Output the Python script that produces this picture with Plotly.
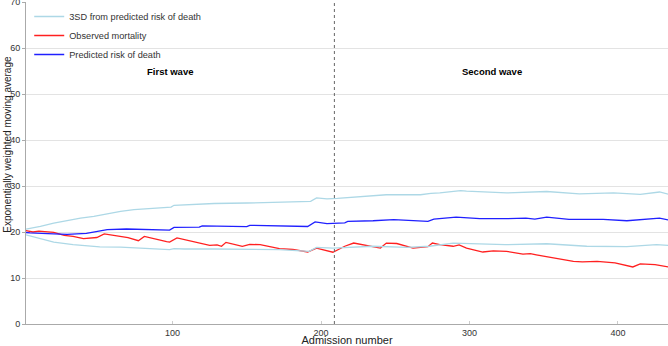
import plotly.graph_objects as go

# ---- data ----
upper_x = [1, 11, 20, 29, 38, 47, 56, 65, 74, 87, 96, 99, 101, 108, 118, 128, 150, 172, 193, 197,
           204, 211, 222, 235, 244, 258, 267, 274, 280, 294, 298, 325, 352, 374, 397, 415, 428, 434]
upper_y = [20.6, 21.2, 21.95, 22.5, 23.0, 23.4, 24.0, 24.5, 24.85, 25.2, 25.35, 25.4, 25.8, 25.9, 26.1,
           26.2, 26.3, 26.5, 26.65, 27.4, 27.2, 27.3, 27.6, 27.9, 28.1, 28.1, 28.1, 28.4, 28.5, 29.0,
           28.9, 28.5, 28.8, 28.3, 28.5, 28.2, 28.7, 28.2]

lower_x = [1, 11, 20, 33, 51, 65, 87, 98, 101, 108, 128, 150, 172, 192, 197, 208, 216, 235, 258,
           273, 289, 307, 324, 352, 379, 406, 426, 434]
lower_y = [19.4, 18.5, 17.8, 17.25, 16.75, 16.7, 16.4, 16.15, 16.4, 16.3, 16.3, 16.15, 16.15, 15.8,
           16.65, 16.5, 16.65, 16.9, 16.65, 16.9, 17.6, 17.5, 17.25, 17.45, 16.9, 16.8, 17.25, 17.1]

pred_x = [1, 4, 20, 29, 42, 47, 56, 69, 78, 96, 98, 101, 118, 120, 145, 150, 152, 172, 191, 196,
          204, 216, 218, 235, 249, 272, 276, 291, 307, 324, 338, 344, 352, 367, 390, 406, 419, 428, 434]
pred_y = [19.9, 19.8, 19.6, 19.5, 19.7, 20.0, 20.5, 20.65, 20.6, 20.5, 20.4, 21.0, 21.05, 21.35,
          21.2, 21.15, 21.45, 21.4, 21.2, 22.2, 21.8, 22.0, 22.3, 22.45, 22.7, 22.3, 22.8, 23.25,
          22.9, 22.9, 23.0, 22.8, 23.25, 22.75, 22.75, 22.45, 22.8, 23.0, 22.6]

obs_x = [1, 6, 10, 17, 20, 27, 33, 40, 44, 49, 54, 65, 70, 77, 81, 96, 98, 103, 108, 118, 125,
         130, 133, 136, 143, 147, 152, 159, 172, 181, 191, 197, 208, 212, 216, 222, 235, 240, 244,
         251, 262, 272, 275, 280, 289, 293, 298, 309, 316, 325, 336, 341, 345, 370, 376, 386, 398,
         410, 415, 425, 434]
obs_y = [20.3, 20.0, 20.2, 20.0, 19.9, 19.25, 19.05, 18.55, 18.7, 18.8, 19.6, 19.05, 18.8, 18.1,
         19.05, 17.9, 17.8, 18.7, 18.3, 17.6, 17.1, 17.2, 16.9, 17.75, 17.3, 16.9, 17.3, 17.25,
         16.4, 16.2, 15.65, 16.5, 15.6, 16.3, 16.9, 17.6, 16.9, 16.5, 17.6, 17.5, 16.5, 16.8,
         17.6, 17.25, 16.9, 17.2, 16.5, 15.65, 15.9, 15.8, 15.2, 15.3, 15.05, 13.6, 13.5, 13.6,
         13.3, 12.4, 13.05, 12.9, 12.4]

wave_split = 209
wave_labels = ["First wave", "Second wave"]
wave_label_x = [98, 315]
wave_label_y = 55
x_ticks = [100, 200, 300, 400]
y_title = "Exponentially weighted moving average"
x_title = "Admission number"

FONT = "Liberation Sans, Arial, sans-serif"
LIGHT = "#add8e6"

fig = go.Figure()
fig.add_trace(go.Scatter(x=upper_x, y=upper_y, mode="lines", name="3SD from predicted risk of death",
                         line=dict(color=LIGHT, width=1.3), legendgroup="sd"))
fig.add_trace(go.Scatter(x=obs_x, y=obs_y, mode="lines", name="Observed mortality",
                         line=dict(color="#ff2020", width=1.3)))
fig.add_trace(go.Scatter(x=pred_x, y=pred_y, mode="lines", name="Predicted risk of death",
                         line=dict(color="#2020ff", width=1.3)))
fig.add_trace(go.Scatter(x=lower_x, y=lower_y, mode="lines", name="3SD from predicted risk of death",
                         line=dict(color=LIGHT, width=1.3), legendgroup="sd", showlegend=False))

fig.add_vline(x=wave_split, line=dict(color="#666666", width=1, dash="dot"))

for t, xv in zip(wave_labels, wave_label_x):
    fig.add_annotation(x=xv, y=wave_label_y, text="<b>" + t + "</b>", showarrow=False,
                       font=dict(family=FONT, size=9.5, color="#000000"))

# y-axis title (sits slightly above the plot centre in the reference)
fig.add_annotation(xref="paper", yref="paper", x=-0.028, y=0.557, text=y_title,
                   xanchor="center", yanchor="middle", textangle=-90, showarrow=False,
                   font=dict(family=FONT, size=10, color="#222222"))

fig.update_layout(
    width=668, height=346,
    margin=dict(l=26, r=0, t=2, b=22),
    paper_bgcolor="white", plot_bgcolor="white",
    font=dict(family=FONT, size=10, color="#333333"),
    showlegend=True,
    legend=dict(x=0.005, y=1.0, xanchor="left", yanchor="top", bgcolor="rgba(0,0,0,0)",
                font=dict(family=FONT, size=9.2, color="#333333"), traceorder="normal",
                tracegroupgap=0),
)
fig.update_xaxes(range=[1.3, 433.7], tickvals=x_ticks, showgrid=False,
                 showline=True, linecolor="#aaaaaa", linewidth=1, ticks="inside", ticklen=3,
                 tickcolor="#cccccc", zeroline=False, automargin=False,
                 tickfont=dict(size=9, color="#333333"),
                 title=dict(text=x_title, standoff=3,
                            font=dict(family=FONT, size=11, color="#222222")))
fig.update_yaxes(range=[0, 70], dtick=10, showgrid=True, gridcolor="#e3e3e3", gridwidth=1,
                 showline=True, linecolor="#aaaaaa", linewidth=1, ticks="outside", ticklen=3,
                 tickcolor="#aaaaaa", zeroline=False, automargin=False,
                 ticklabeloverflow="allow",
                 tickfont=dict(size=9, color="#333333"))

fig.write_html("out.html", config={"displayModeBar": False},
               post_script="document.body.style.margin='0';")
